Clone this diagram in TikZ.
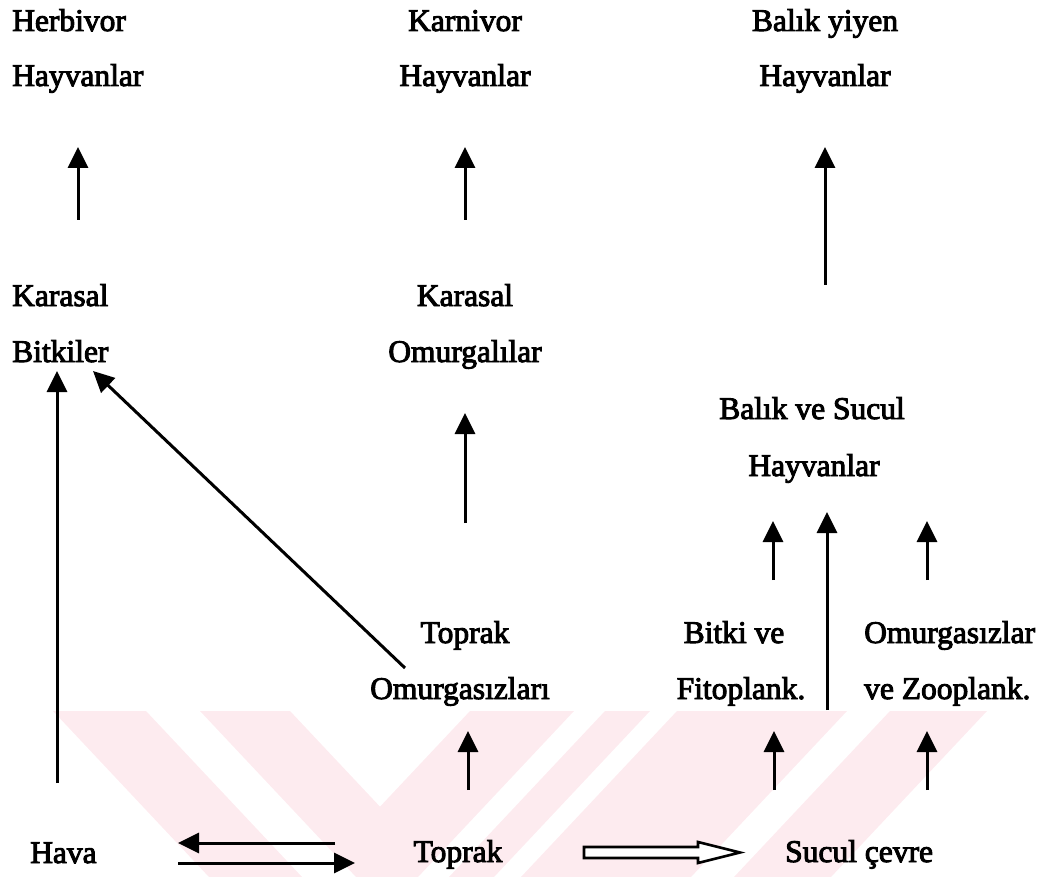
\documentclass[tikz,border=0pt]{standalone}
\usepackage{fontspec}
\setmainfont{Liberation Serif}[FakeBold=3]
\usetikzlibrary{arrows.meta,calc}
\definecolor{wmpink}{RGB}{253,235,239}
\begin{document}
\begin{tikzpicture}[x=1pt,y=-1pt,
  lbl/.style={inner sep=0pt,font=\fontsize{31.5}{36}\selectfont},
  arr/.style={line width=3pt,-{Triangle[width=20pt,length=21pt]}},
  hollow/.style={line width=2.6pt,line join=miter}]
\useasboundingbox (0,0) rectangle (1041,877);
% watermark
\begin{scope}
\clip (0,711) rectangle (1041,877);
\fill[wmpink] (53,711) -- (146,711) -- (302,877) -- (209,877) -- cycle;
\fill[wmpink] (200,711) -- (290,711) -- (380,806.7) -- (470,711) -- (574,711) -- (418,877) -- (356,877) -- cycle;
\fill[wmpink] (605,711) -- (650,711) -- (494,877) -- (449,877) -- cycle;
\fill[wmpink] (677,711) -- (847,711) -- (691,877) -- (521,877) -- cycle;
\fill[wmpink] (890,711) -- (987,711) -- (831,877) -- (734,877) -- cycle;
\end{scope}
% texts
\node[lbl,anchor=base west] (herb1) at (12,31) {Herbivor};
\node[lbl,anchor=base west] (herb2) at (12,86) {Hayvanlar};
\node[lbl,anchor=base] (karn1) at (465,31) {Karnivor};
\node[lbl,anchor=base] (karn2) at (465,86) {Hayvanlar};
\node[lbl,anchor=base] (bal1) at (825,31) {Balık yiyen};
\node[lbl,anchor=base] (bal2) at (825,86) {Hayvanlar};
\node[lbl,anchor=base west] (kb1) at (12,306) {Karasal};
\node[lbl,anchor=base west] (kb2) at (12,362) {Bitkiler};
\node[lbl,anchor=base] (ko1) at (465,306) {Karasal};
\node[lbl,anchor=base] (ko2) at (465,362) {Omurgalılar};
\node[lbl,anchor=base] (bs1) at (812,419) {Balık ve Sucul};
\node[lbl,anchor=base] (bs2) at (814,476) {Hayvanlar};
\node[lbl,anchor=base] (to1) at (465,643) {Toprak};
\node[lbl,anchor=base] (to2) at (460,699) {Omurgasızları};
\node[lbl,anchor=base] (bf1) at (734,643) {Bitki ve};
\node[lbl,anchor=base] (bf2) at (741,699) {Fitoplank.};
\node[lbl,anchor=base west] (oz1) at (864,643) {Omurgasızlar};
\node[lbl,anchor=base west] (oz2) at (864,699) {ve Zooplank.};
\node[lbl,anchor=base west] (hava) at (30,863) {Hava};
\node[lbl,anchor=base] (toprak) at (458,862) {Toprak};
\node[lbl,anchor=base west] (sucul) at (785,862) {Sucul çevre};
% connector end points
\coordinate (a1t) at (78,220);   \coordinate (a1h) at (78,147);
\coordinate (a2t) at (465,220);  \coordinate (a2h) at (465,147);
\coordinate (a3t) at (825,285);  \coordinate (a3h) at (825,147);
\coordinate (a4t) at (465,523);  \coordinate (a4h) at (465,413);
\coordinate (a5t) at (57,783);   \coordinate (a5h) at (57,371);
\coordinate (a6t) at (405,668);  \coordinate (a6h) at (93,371);
\coordinate (a7t) at (773,580);  \coordinate (a7h) at (773,521);
\coordinate (a8t) at (827,710);  \coordinate (a8h) at (827,512);
\coordinate (a9t) at (927,580);  \coordinate (a9h) at (927,521);
\coordinate (b1t) at (468,790);  \coordinate (b1h) at (468,731);
\coordinate (b2t) at (774,790);  \coordinate (b2h) at (774,731);
\coordinate (b3t) at (927,790);  \coordinate (b3h) at (927,731);
\coordinate (c1t) at (335,843);  \coordinate (c1h) at (178,843);
\coordinate (c2t) at (178,863);  \coordinate (c2h) at (355,863);
\coordinate (ht) at (584,852.5); \coordinate (hh) at (740,852.5);
% connectors
\draw[arr] (a1t) -- (a1h);
\draw[arr] (a2t) -- (a2h);
\draw[arr] (a3t) -- (a3h);
\draw[arr] (a4t) -- (a4h);
\draw[arr] (a5t) -- (a5h);
\draw[arr] (a6t) -- (a6h);
\draw[arr] (a7t) -- (a7h);
\draw[arr] (a8t) -- (a8h);
\draw[arr] (a9t) -- (a9h);
\draw[arr] (b1t) -- (b1h);
\draw[arr] (b2t) -- (b2h);
\draw[arr] (b3t) -- (b3h);
\draw[arr] (c1t) -- (c1h);
\draw[arr] (c2t) -- (c2h);
\draw[hollow,fill=white] ($(ht)+(0,-5.5)$) -- ($(hh)+(-42,-5.5)$) -- ($(hh)+(-42,-10.5)$) -- (hh)
  -- ($(hh)+(-42,10.5)$) -- ($(hh)+(-42,5.5)$) -- ($(ht)+(0,5.5)$) -- cycle;
\end{tikzpicture}
\end{document}
